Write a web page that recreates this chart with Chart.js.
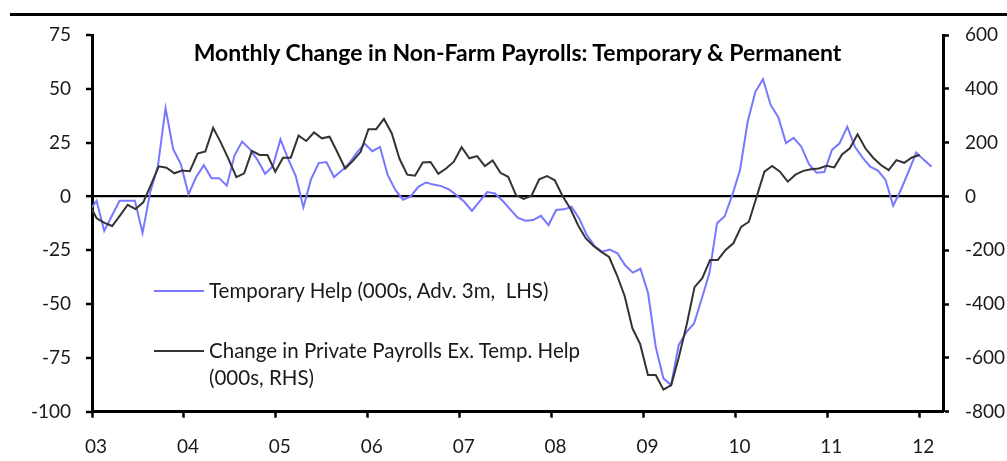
<!DOCTYPE html>
<html>
<head>
<meta charset="utf-8">
<script src="https://cdn.jsdelivr.net/npm/chart.js@4/dist/chart.umd.min.js"></script>
<style>
  html, body { margin: 0; padding: 0; background: #fff; }
  #wrap { position: relative; width: 1007px; height: 461px; overflow: hidden; font-family: 'Lato', 'DejaVu Sans', sans-serif; }
  #topRule { position: absolute; left: 10px; top: 13px; width: 997px; height: 3px; background: #000; }
  #title { position: absolute; left: 92px; width: 851px; top: 39px; text-align: center; font-weight: 700; font-size: 23px; line-height: 26px; color: #000; }
  .leg { position: absolute; font-size: 20.5px; line-height: 27px; color: #1a1a1a; white-space: pre; }
  .sw { position: absolute; width: 50px; height: 2px; }
  canvas { position: absolute; left: 0; top: 0; }
</style>
</head>
<body>
<div id="wrap">
  <canvas id="c" width="1007" height="461"></canvas>
  <div id="topRule"></div>
  <div id="title">Monthly Change in Non-Farm Payrolls: Temporary &amp; Permanent</div>
  <div class="sw" style="left:154px; top:290px; background:#7777ff;"></div>
  <div class="leg" style="left:209px; top:277px;">Temporary Help (000s, Adv. 3m,  LHS)</div>
  <div class="sw" style="left:154px; top:350px; background:#333;"></div>
  <div class="leg" style="left:209px; top:337px;">Change in Private Payrolls Ex. Temp. Help
(000s, RHS)</div>
</div>
<script>
// Year tick labels (each January, 2003..2012)
const yearLabels = ['03','04','05','06','07','08','09','10','11','12'];

// Temporary help, 000s, advanced 3m (LHS) — monthly, Dec 2002 .. Feb 2012
const tempHelp = [
  -7, -2, -16, -9, -2, -2, -2, -17, 2, 14, 41, 22, 15,
  1, 9, 14.5, 8.5, 8.5, 5, 19, 25.5, 22, 17, 10.5, 14,
  26.5, 17.5, 9.5, -5, 8, 15.5, 16, 9, 12, 15.5, 20.5, 24.5,
  21, 23, 10, 3, -1.5, 0, 4.5, 6.5, 5.5, 4.8, 3.3, 0.6,
  -2.5, -6.7, -2.3, 2, 1.4, -2, -6, -10, -11.3, -11, -9, -13.3,
  -6.3, -6, -4.8, -10.2, -18, -23, -25.7, -24.7, -26.4, -32, -35.4, -33.6,
  -45, -70, -84.5, -87.6, -69, -63, -59, -47.5, -35.7, -12.4, -9.2, 0.7,
  12.3, 34.7, 48.6, 54.5, 42.5, 36.8, 24.8, 27.2, 23.1, 15, 11, 11.3,
  21.6, 24.7, 32.4, 23.1, 18, 13.8, 12, 7.7, -4.3, 3, 11.5, 20.4,
  17, 13.8
];

// Change in private payrolls ex. temp help, 000s (RHS) — monthly, Dec 2002 .. Dec 2011
const privateExTemp = [
  -28, -81, -98, -110, -71, -31, -47, -22, 44, 112, 107, 86, 96,
  94, 159, 167, 255, 200, 138, 72, 86, 169, 154, 154, 92,
  144, 144, 226, 206, 238, 216, 222, 164, 104, 132, 166, 250,
  250, 288, 235, 140, 81, 77, 126, 128, 84, 104, 129, 183,
  142, 150, 113, 134, 88, 73, 5, -9, 3, 64, 76, 60,
  2, -45, -107, -156, -184, -206, -225, -292, -370, -490, -549, -664,
  -664, -718, -701, -595, -475, -337, -304, -236, -236, -199, -174, -113,
  -94, -1, 92, 113, 92, 55, 81, 95, 101, 104, 114, 108,
  156, 179, 231, 179, 144, 117, 98, 135, 125, 145, 154
];

const leftTicks = { min: -100, max: 75, step: 25 };
const rightTicks = { min: -800, max: 600, step: 200 };

// series start one month before Jan 2003; point = middle of its month
const START = -1, MID = 0.6;
const toPts = arr => arr.map((v, i) => ({ x: START + i + MID, y: v }));

const FONT = { family: 'Lato', size: 19 };
const INK = '#1a1a1a';

new Chart(document.getElementById('c'), {
  type: 'line',
  data: {
    datasets: [
      { label: 'Temporary Help (000s, Adv. 3m,  LHS)', data: toPts(tempHelp), xAxisID: 'x', yAxisID: 'y',
        borderColor: '#7777ff', borderWidth: 2, pointRadius: 0, tension: 0, fill: false, clip: 0, order: 2 },
      { label: 'Change in Private Payrolls Ex. Temp. Help (000s, RHS)', data: toPts(privateExTemp), xAxisID: 'x2', yAxisID: 'y2',
        borderColor: '#333333', borderWidth: 2, pointRadius: 0, tension: 0, fill: false, clip: 0, order: 1 }
    ]
  },
  options: {
    responsive: false,
    animation: false,
    devicePixelRatio: 1,
    layout: { padding: { top: 35, left: 0, right: 0, bottom: 0 } },
    plugins: { legend: { display: false }, title: { display: false }, tooltip: { enabled: false } },
    scales: {
      x: {
        type: 'linear', position: 'bottom', min: 0, max: 111.1,
        afterBuildTicks: s => { s.ticks = yearLabels.map((_, i) => ({ value: i * 12 })); },
        afterFit: s => { s.height = 49.3; },
        ticks: { autoSkip: false, maxRotation: 0, padding: 18, labelOffset: 4, color: INK, font: FONT,
                 callback: v => yearLabels[Math.round(v / 12)] },
        grid: { drawOnChartArea: false, tickLength: 6, tickWidth: 2.5, tickColor: '#000' },
        border: { color: '#000', width: 3 }
      },
      x2: { type: 'linear', display: false, min: 0, max: 109.6 },
      y: {
        type: 'linear', position: 'left', min: leftTicks.min, max: leftTicks.max,
        ticks: { stepSize: leftTicks.step, padding: 15, color: INK, font: FONT },
        afterFit: s => { s.width = 92; },
        grid: { drawOnChartArea: true, tickLength: 6, tickWidth: 2.5, tickColor: '#000',
                color: c => (c.tick && c.tick.value === 0) ? '#000' : 'rgba(0,0,0,0)',
                lineWidth: c => (c.tick && c.tick.value === 0) ? 2.3 : 0 },
        border: { color: '#000', width: 3 }
      },
      y2: {
        type: 'linear', position: 'right', min: rightTicks.min, max: rightTicks.max,
        ticks: { stepSize: rightTicks.step, padding: 16, color: INK, font: FONT },
        afterFit: s => { s.width = 64; },
        grid: { drawOnChartArea: false, tickLength: 6, tickWidth: 2.5, tickColor: '#000' },
        border: { color: '#000', width: 3 }
      }
    }
  }
});
</script>
</body>
</html>
